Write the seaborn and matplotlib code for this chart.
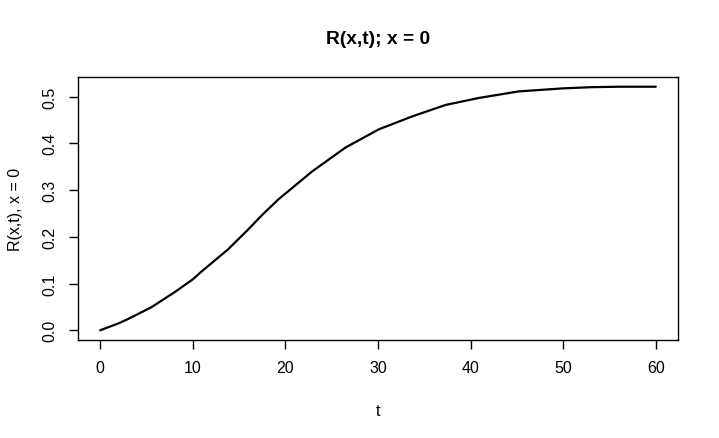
import matplotlib
matplotlib.use("Agg")
import matplotlib.pyplot as plt
import seaborn as sns
import pandas as pd

t_values = [0, 2, 3, 5.5, 8, 10, 10.9, 13.8, 15.9, 17.5, 19.3, 22.9, 26.5, 30.1, 33.7, 37.3,
            40.9, 45.2, 50, 53, 56, 60]
r_values = [0, 0.015, 0.024, 0.049, 0.081, 0.109, 0.125, 0.173, 0.214, 0.247, 0.281, 0.340,
            0.391, 0.430, 0.4575, 0.482, 0.497, 0.511, 0.5175, 0.520, 0.521, 0.521]
x_ticks = [0, 10, 20, 30, 40, 50, 60]
y_ticks = [0.0, 0.1, 0.2, 0.3, 0.4, 0.5]
y_tick_labels = ["0.0", "0.1", "0.2", "0.3", "0.4", "0.5"]

sns.set_style("ticks")
plt.rcParams['font.family'] = ['Liberation Sans', 'DejaVu Sans']
plt.rcParams['text.color'] = 'black'
plt.rcParams['axes.labelcolor'] = 'black'

df = pd.DataFrame({"t": t_values, "R": r_values})

fig = plt.figure(figsize=(7.19, 4.39), dpi=100)
ax = fig.add_axes([78/719, 1-341/439, 600/719, 263/439])
sns.lineplot(data=df, x="t", y="R", ax=ax, color="black", linewidth=1.6)

ax.set_xlim(-2.4, 62.4)
ax.set_ylim(-0.0208, 0.5418)
ax.set_xticks(x_ticks)
ax.set_yticks(y_ticks)
ax.set_yticklabels(y_tick_labels, rotation=90, va="center")
for s in ax.spines.values():
    s.set_visible(True)
    s.set_color("black")
    s.set_linewidth(1.0)
ax.tick_params(axis="both", direction="out", length=6.5, width=1.0, color="black",
               labelsize=11.5, labelcolor="black", pad=8)
ax.set_xlabel("t", fontsize=11.5, labelpad=20, color="black")
ax.set_ylabel("R(x,t), x = 0", fontsize=11.5, labelpad=14, color="black")
fig.text(378/719, 1-40/439, "R(x,t); x = 0", fontsize=13.8, fontweight="bold",
         ha="center", va="center", color="black")

fig.savefig("out.png", dpi=100)
